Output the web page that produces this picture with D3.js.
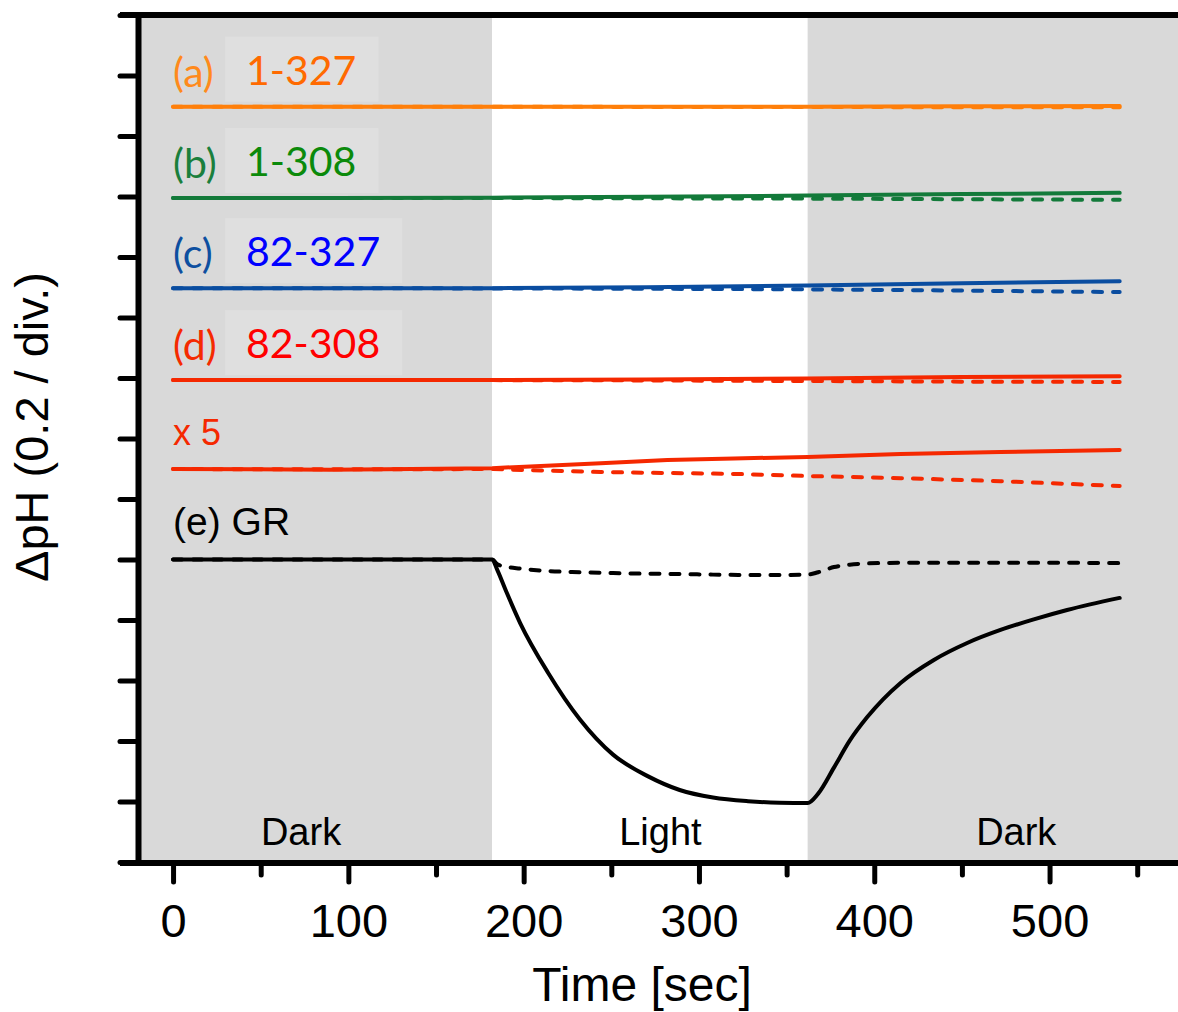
<!DOCTYPE html>
<html>
<head>
<meta charset="utf-8">
<script src="https://cdn.jsdelivr.net/npm/d3@7"></script>
<style>
  body { margin: 0; background: #fff; }
  svg { display: block; }
</style>
</head>
<body>
<div id="chart"></div>
<script>
// Time points (sec) of the traces
const timeFlat = [0, 90, 182, 270, 362, 450, 540];
const timeGR = [0, 60, 120, 176, 182, 185, 190, 198, 214, 232, 251, 271, 289, 308, 328, 346, 362, 368, 377, 386, 396, 415, 434, 453, 472, 491, 510, 540];
const timeX5 = [0, 90, 182, 244, 282, 320, 362, 415, 472, 540];

// ΔpH traces (offset stacked, 0.2 per division); solid = light-on trace, dashed = control
const seriesA = [2.497, 2.497, 2.497, 2.497, 2.497, 2.498, 2.499];
const seriesADash = [2.497, 2.497, 2.497, 2.496, 2.496, 2.495, 2.495];
const seriesB = [2.195, 2.195, 2.196, 2.199, 2.203, 2.208, 2.212];
const seriesBDash = [2.195, 2.195, 2.195, 2.194, 2.193, 2.191, 2.189];
const seriesC = [1.897, 1.897, 1.897, 1.900, 1.906, 1.913, 1.920];
const seriesCDash = [1.897, 1.897, 1.896, 1.895, 1.893, 1.889, 1.884];
const seriesD = [1.593, 1.593, 1.593, 1.595, 1.598, 1.603, 1.606];
const seriesDDash = [1.593, 1.593, 1.593, 1.592, 1.590, 1.588, 1.587];
const seriesX5 = [1.299, 1.297, 1.302, 1.318, 1.329, 1.334, 1.339, 1.349, 1.355, 1.362];
const seriesX5Dash = [1.299, 1.298, 1.299, 1.289, 1.286, 1.283, 1.276, 1.269, 1.259, 1.243];
const seriesGR = [1.0, 1.0, 1.0, 1.0, 1.0, 0.965, 0.895, 0.790, 0.625, 0.472, 0.355, 0.283, 0.238, 0.213, 0.201, 0.196, 0.195, 0.226, 0.312, 0.401, 0.479, 0.592, 0.668, 0.724, 0.767, 0.802, 0.833, 0.873];
const seriesGRDash = [1.0, 1.0, 1.0, 1.0, 1.0, 0.984, 0.976, 0.970, 0.962, 0.958, 0.955, 0.953, 0.952, 0.950, 0.949, 0.949, 0.950, 0.958, 0.975, 0.983, 0.987, 0.989, 0.989, 0.989, 0.989, 0.989, 0.989, 0.988];

// Illumination phases
const phaseNames = ['Dark', 'Light', 'Dark'];
const phaseBounds = [-20, 182, 362, 580];
const phaseLabelTime = [73, 278, 481];

const xTicksMajor = [0, 100, 200, 300, 400, 500];
const xTicksMinor = [50, 150, 250, 350, 450, 550];
const yTicks = d3.range(0, 15).map(i => i * 0.2);

const labelFamily = "Lato, 'Open Sans', sans-serif";
const arial = "'Liberation Sans', Arial, sans-serif";

const width = 1178, height = 1012;
const margin = { top: 15, left: 138, bottom: 150 };

const svg = d3.select('#chart').append('svg')
  .attr('width', width)
  .attr('height', height);

const x = d3.scaleLinear().domain([-20, 580]).range([margin.left, margin.left + 600 * 1.753]);
const y = d3.scaleLinear().domain([0, 2.8]).range([862, margin.top]);

// Background phases
svg.append('g').selectAll('rect')
  .data(phaseNames)
  .enter()
  .append('rect')
    .attr('x', (d, i) => x(phaseBounds[i]))
    .attr('y', y(2.8))
    .attr('width', (d, i) => x(phaseBounds[i + 1]) - x(phaseBounds[i]))
    .attr('height', y(0) - y(2.8))
    .attr('fill', d => d === 'Dark' ? '#d9d9d9' : '#ffffff');

// Trace labels
const traceLabels = [
  { tag: '(a)', name: '1-327', tagColor: '#ff8a1c', nameColor: '#ff6a00', level: 2.497 },
  { tag: '(b)', name: '1-308', tagColor: '#1a7f3c', nameColor: '#0b8a0b', level: 2.195 },
  { tag: '(c)', name: '82-327', tagColor: '#0d4fa0', nameColor: '#0000ff', level: 1.897 },
  { tag: '(d)', name: '82-308', tagColor: '#f52a00', nameColor: '#ff0000', level: 1.593 }
];

const boxLayer = svg.append('g');
const labelLayer = svg.append('g');

traceLabels.forEach(l => {
  const base = y(l.level) - 22;
  labelLayer.append('text')
    .attr('x', x(0))
    .attr('y', base + 2)
    .attr('font-family', labelFamily)
    .attr('font-size', 41)
    .attr('fill', l.tagColor)
    .text(l.tag);
  const name = labelLayer.append('text')
    .attr('x', x(0) + 73)
    .attr('y', base)
    .attr('font-family', labelFamily)
    .attr('font-size', 41)
    .attr('fill', l.nameColor)
    .text(l.name);
  const nb = name.node().getBBox();
  boxLayer.append('rect')
    .attr('x', x(0) + 52)
    .attr('y', nb.y - 8)
    .attr('width', nb.x + nb.width + 22 - (x(0) + 52))
    .attr('height', nb.height + 16)
    .attr('fill', '#dfdfdf');
});

// Lines
const line = (ts) => d3.line()
  .x((d, i) => x(ts[i]))
  .y(d => y(d));

const traces = [
  { t: timeFlat, v: seriesADash, color: '#ff7f0a', dash: true },
  { t: timeFlat, v: seriesA, color: '#ff7f0a', dash: false },
  { t: timeFlat, v: seriesBDash, color: '#137a3a', dash: true },
  { t: timeFlat, v: seriesB, color: '#137a3a', dash: false },
  { t: timeFlat, v: seriesCDash, color: '#0a4da0', dash: true },
  { t: timeFlat, v: seriesC, color: '#0a4da0', dash: false },
  { t: timeFlat, v: seriesDDash, color: '#f52800', dash: true },
  { t: timeFlat, v: seriesD, color: '#f52800', dash: false },
  { t: timeX5, v: seriesX5Dash, color: '#f52800', dash: true },
  { t: timeX5, v: seriesX5, color: '#f52800', dash: false },
  { t: timeGR, v: seriesGRDash, color: '#000000', dash: true, smooth: true },
  { t: timeGR, v: seriesGR, color: '#000000', dash: false, smooth: true }
];

svg.append('g').selectAll('path')
  .data(traces)
  .enter()
  .append('path')
    .attr('d', d => {
      const gen = line(d.t);
      if (d.smooth) gen.curve(d3.curveMonotoneX);
      return gen(d.v);
    })
    .attr('fill', 'none')
    .attr('stroke', d => d.color)
    .attr('stroke-width', 4)
    .attr('stroke-linecap', 'round')
    .attr('stroke-linejoin', 'round')
    .attr('stroke-dasharray', d => d.dash ? '9,11' : null);

// "x 5" and GR labels
svg.append('text')
  .attr('x', x(0))
  .attr('y', y(1.3) - 24)
  .attr('font-family', arial)
  .attr('font-size', 36)
  .attr('fill', '#f52800')
  .text('x 5');

svg.append('text')
  .attr('x', x(0))
  .attr('y', y(1.0) - 25)
  .attr('font-family', arial)
  .attr('font-size', 39)
  .attr('fill', '#000')
  .text('(e) GR');

// Phase labels
svg.append('g').selectAll('text')
  .data(phaseNames)
  .enter()
  .append('text')
    .attr('x', (d, i) => x(phaseLabelTime[i]))
    .attr('y', 845)
    .attr('text-anchor', 'middle')
    .attr('font-family', arial)
    .attr('font-size', 38)
    .text(d => d);

// Y axis (no labels)
const yAxis = svg.append('g')
  .attr('transform', `translate(${margin.left},0)`)
  .call(d3.axisLeft(y).tickValues(yTicks).tickSize(18).tickSizeOuter(0).tickFormat(''));
yAxis.select('.domain').attr('stroke-width', 6).attr('stroke', '#000');
yAxis.selectAll('.tick line').attr('stroke-width', 5).attr('stroke-linecap', 'round');

// Top frame line
svg.append('line')
  .attr('x1', margin.left - 18)
  .attr('x2', width)
  .attr('y1', y(2.8))
  .attr('y2', y(2.8))
  .attr('stroke', '#000')
  .attr('stroke-width', 6);

// X axis
const xAxisY = 863;
const xMinor = svg.append('g')
  .attr('transform', `translate(0,${xAxisY})`)
  .call(d3.axisBottom(x).tickValues(xTicksMinor).tickSize(12).tickSizeOuter(0).tickFormat(''));
xMinor.select('.domain').remove();
xMinor.selectAll('.tick line').attr('stroke-width', 5).attr('stroke-linecap', 'round');

const xAxis = svg.append('g')
  .attr('transform', `translate(0,${xAxisY})`)
  .call(d3.axisBottom(x).tickValues(xTicksMajor).tickSize(19).tickSizeOuter(0));
xAxis.select('.domain')
  .attr('d', `M${margin.left - 18},0H${width}`)
  .attr('stroke-width', 6);
xAxis.selectAll('.tick line').attr('stroke-width', 5).attr('stroke-linecap', 'round');
xAxis.selectAll('.tick text')
  .attr('y', 74)
  .attr('dy', 0)
  .attr('font-family', arial)
  .attr('font-size', 47)
  .attr('fill', '#000');

// Axis titles
svg.append('text')
  .attr('x', 642)
  .attr('y', 1001)
  .attr('text-anchor', 'middle')
  .attr('font-family', arial)
  .attr('font-size', 48)
  .text('Time [sec]');

svg.append('text')
  .attr('transform', 'translate(48,427) rotate(-90)')
  .attr('text-anchor', 'middle')
  .attr('font-family', arial)
  .attr('font-size', 47)
  .text('ΔpH (0.2 / div.)');
</script>
</body>
</html>
